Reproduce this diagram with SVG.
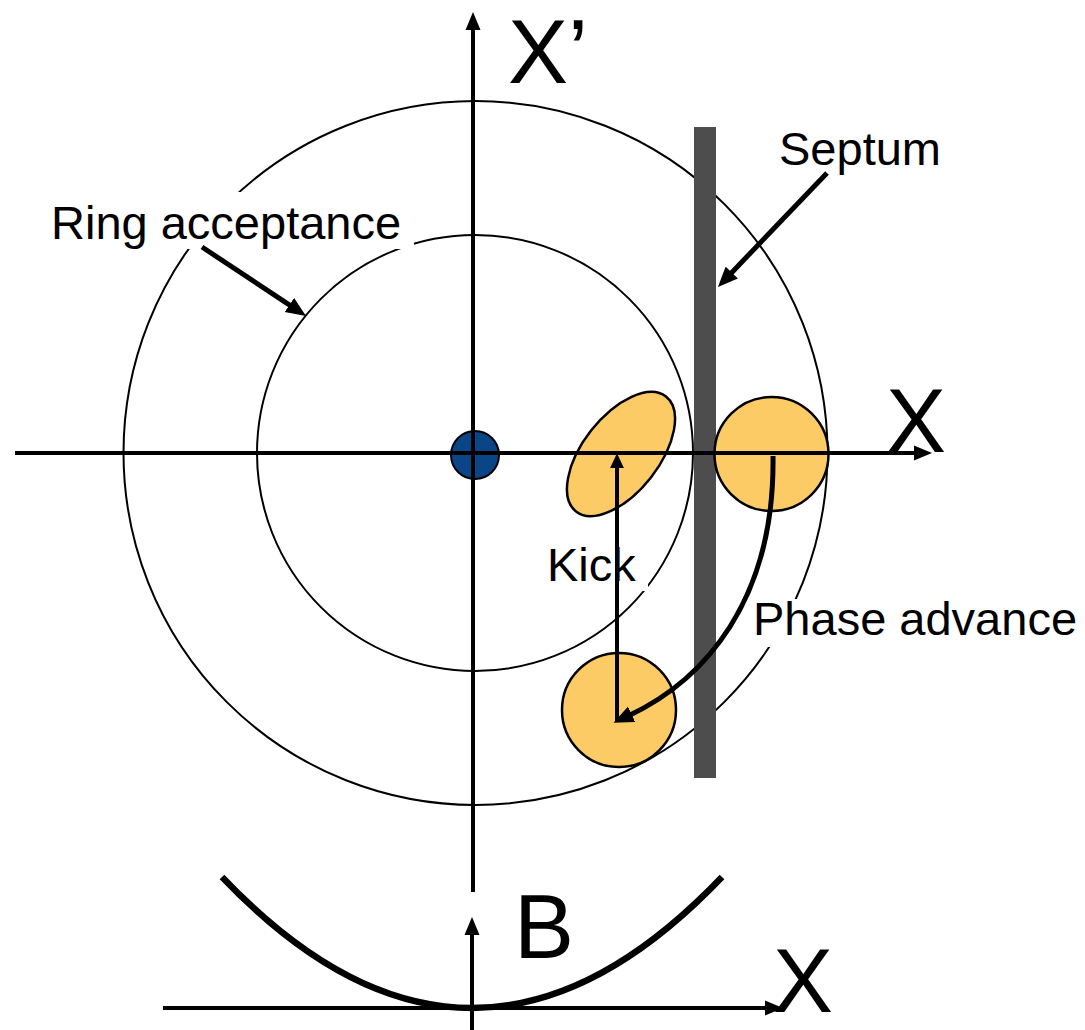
<svg xmlns="http://www.w3.org/2000/svg" width="1085" height="1030" viewBox="0 0 1085 1030">
<style>
.ring{fill:none;stroke:#000;stroke-width:2}
.beam{fill:#FDCB66;stroke:#000;stroke-width:2.5}
.ax{stroke:#000;stroke-width:4;fill:none}
.ptr{stroke:#000;stroke-width:5;fill:none}
.bg{fill:#fff;stroke:none}
.lbl{font-family:"Liberation Sans",Arial,sans-serif;font-size:47px;fill:#000}
.big{font-family:"Liberation Sans",Arial,sans-serif;font-size:90px;fill:#000}
</style>
<defs>
<marker id="ah" markerUnits="userSpaceOnUse" markerWidth="18" markerHeight="16" refX="4" refY="7.5" orient="auto" viewBox="0 0 18 15"><path d="M0,0 L18,7.5 L0,15 z" fill="#000"/></marker>
<marker id="ak" markerUnits="userSpaceOnUse" markerWidth="15" markerHeight="14" refX="2" refY="6.5" orient="auto" viewBox="0 0 14 13"><path d="M0,0 L14,6.5 L0,13 z" fill="#000"/></marker>
<marker id="ap" markerUnits="userSpaceOnUse" markerWidth="20" markerHeight="18" refX="4" refY="8.5" orient="auto" viewBox="0 0 20 17"><path d="M0,0 L20,8.5 L0,17 z" fill="#000"/></marker>
</defs>
<g id="outer-ring"><circle class="ring" cx="475.5" cy="453" r="352"/></g>
<g id="inner-ring"><circle class="ring" cx="475" cy="453" r="218"/></g>
<g id="label-backgrounds">
<rect class="bg" x="46" y="192" width="368" height="57"/>
<rect class="bg" x="749" y="599" width="336" height="48"/>
<rect class="bg" x="545" y="545" width="103" height="46"/>
</g>
<g id="septum"><rect x="694" y="127" width="22" height="651" fill="#4D4D4D"/></g>
<g id="beam-tilted"><ellipse class="beam" cx="621" cy="454" rx="73" ry="38" transform="rotate(-52 621 454)"/></g>
<g id="beam-right"><circle class="beam" cx="771.5" cy="454" r="57"/></g>
<g id="beam-bottom"><circle class="beam" cx="619" cy="710" r="57"/></g>
<g id="closed-orbit"><circle cx="475" cy="455" r="24" fill="#0A4587" stroke="#000" stroke-width="2"/></g>
<g id="connectors">
<line class="ax" x1="473" y1="892" x2="473" y2="26" marker-end="url(#ah)"/>
<line class="ax" x1="15" y1="453" x2="918" y2="453" marker-end="url(#ah)"/>
<line class="ax" x1="617" y1="722" x2="617" y2="466" marker-end="url(#ak)"/>
<path class="ptr" d="M773,456 C775,600 705,680 628,716" marker-end="url(#ap)"/>
<line class="ptr" x1="827" y1="173" x2="729" y2="275.4" marker-end="url(#ap)"/>
<line class="ptr" x1="202" y1="247" x2="292.7" y2="307.2" marker-end="url(#ap)"/>
<path d="M222,877 Q472,1139 722,877" fill="none" stroke="#000" stroke-width="6.5"/>
<line class="ax" x1="163" y1="1008" x2="769" y2="1008" marker-end="url(#ah)"/>
<line class="ax" x1="472" y1="1030" x2="472" y2="931" marker-end="url(#ah)"/>
</g>
<g id="labels">
<text class="big" x="508" y="83">X’</text>
<text class="big" x="886" y="452">X</text>
<text class="lbl" x="51" y="239">Ring acceptance</text>
<text class="lbl" x="779" y="165">Septum</text>
<text class="lbl" x="547" y="581">Kick</text>
<text class="lbl" x="753" y="635">Phase advance</text>
<text class="big" x="514" y="958">B</text>
<text class="big" x="773" y="1012">X</text>
</g>
</svg>
